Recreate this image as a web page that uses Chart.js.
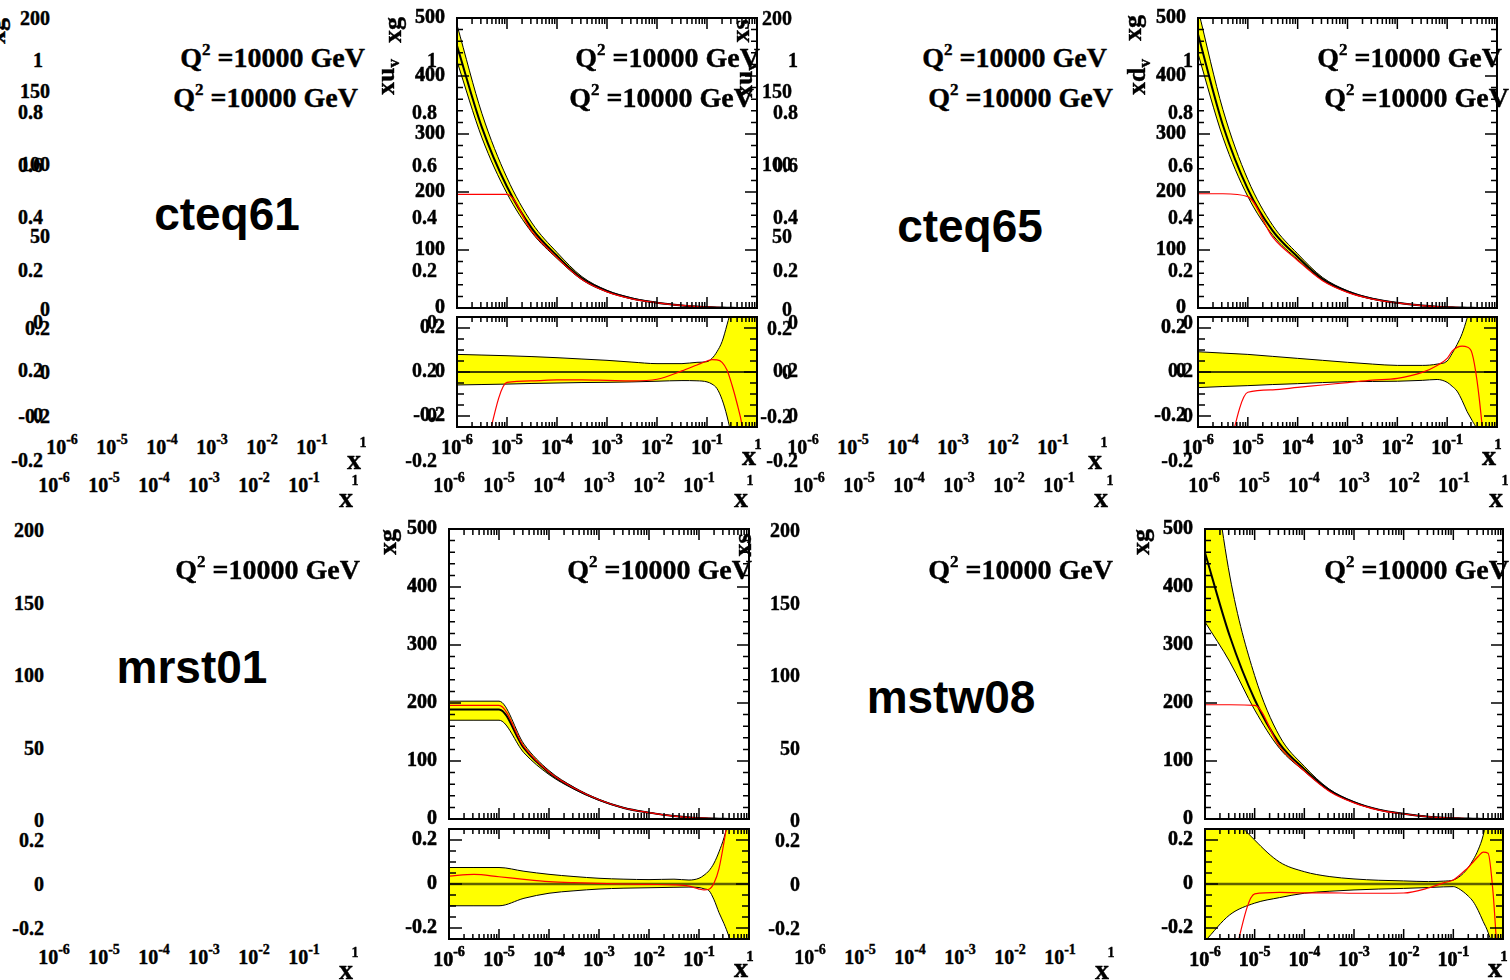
<!DOCTYPE html>
<html>
<head>
<meta charset="utf-8">
<script src="https://cdn.jsdelivr.net/npm/chart.js"></script>
<style>
  html, body { margin: 0; padding: 0; background: #fff; }
  body { width: 1510px; height: 980px; position: relative; overflow: hidden; font-family: "Liberation Serif", "Times New Roman", serif; }
  canvas { position: absolute; }
  .t { position: absolute; white-space: nowrap; line-height: 1; font-weight: bold; color: #000; -webkit-text-stroke: 0.4px #000; }
  .t sup, .t sub { line-height: 0; }
  .sans { font-family: "Liberation Sans", Arial, sans-serif; -webkit-text-stroke: 0; }
</style>
</head>
<body>
<script>
// x grid (shared by every pad)
const xGrid = [1e-6, 3.16e-6, 1e-5, 3.16e-5, 1e-4, 3.16e-4, 1e-3, 3.16e-3, 1e-2, 3.16e-2, 6.3e-2,
               0.1, 0.126, 0.158, 0.2, 0.251, 0.316, 0.398, 0.501, 0.631, 0.794, 1];

// cteq61
const cteq61Central  = [452, 311, 209, 137, 90, 51, 29, 16.5, 9.2, 4.4, 2.4, 1.6, 1.25, 0.95, 0.7, 0.5, 0.33, 0.2, 0.1, 0.05, 0.015, 0];
const cteq61BandUp   = [.080, .077, .074, .070, .065, .059, .053, .045, .038, .038, .044, .047, .062, .092, .138, .214, .30, .40, .55, .70, .90, 1.1];
const cteq61BandLo   = [-.059, -.057, -.055, -.052, -.050, -.048, -.047, -.045, -.042, -.039, -.040, -.045, -.055, -.075, -.125, -.20, -.30, -.40, -.55, -.70, -.90, -1.1];
const cteq61RedRatio = [-.80, -.42, -.047, -.040, -.036, -.036, -.038, -.040, -.033, .005, .032, .050, .056, .055, .044, .009, -.059, -.142, -.24, -.40, -.60, -.80];
const cteq61RedTop   = [196, 196, 196, 131.5, 86.8, 49.2, 27.9, 15.8, 8.9, 4.4, 2.5, 1.7, 1.3, 1.0, 0.73, 0.5, 0.31, 0.17, 0.08, 0.03, 0.006, 0];

// cteq65
const cteq65Central  = [472, 315, 205, 133, 88, 50, 28.5, 16, 9, 4.2, 2.3, 1.5, 1.15, 0.9, 0.65, 0.45, 0.3, 0.18, 0.09, 0.04, 0.01, 0];
const cteq65BandUp   = [.092, .086, .080, .071, .062, .053, .044, .036, .030, .030, .036, .050, .085, .125, .175, .245, .33, .42, .55, .70, .90, 1.1];
const cteq65BandLo   = [-.071, -.066, -.062, -.057, -.053, -.048, -.044, -.043, -.042, -.038, -.034, -.047, -.065, -.087, -.13, -.18, -.22, -.27, -.40, -.55, -.75, -1.0];
const cteq65RedRatio = [-.84, -.466, -.092, -.081, -.070, -.059, -.048, -.037, -.029, -.002, .030, .062, .095, .112, .118, .114, .085, -.04, -.24, -.50, -.70, -.90];
const cteq65RedTop   = [197, 197, 192, 122, 82, 47, 27, 15.4, 8.7, 4.2, 2.4, 1.6, 1.25, 1.0, 0.77, 0.5, 0.33, 0.17, 0.07, 0.02, 0.003, 0];

// mrst01
const mrst01Central  = [189, 189, 189, 122, 80, 53, 33, 19, 11, 5, 2.8, 1.8, 1.4, 1.05, 0.75, 0.5, 0.33, 0.2, 0.1, 0.04, 0.01, 0];
const mrst01BandUp   = [.075, .075, .075, .058, .044, .034, .026, .022, .020, .022, .018, .026, .04, .06, .095, .146, .21, .30, .40, .50, .60, .70];
const mrst01BandLo   = [-.099, -.099, -.099, -.065, -.042, -.031, -.023, -.019, -.017, -.015, -.014, -.016, -.022, -.03, -.072, -.13, -.18, -.24, -.32, -.45, -.55, -.65];
const mrst01RedRatio = [.036, .044, .033, .021, .011, .006, .003, .0, -.002, -.004, -.01, -.023, -.027, -.024, .005, .07, .19, .33, .5, .7, .9, 1.1];
const mrst01RedTop   = [196, 196, 196, 124.6, 80.9, 53.3, 33.1, 19, 11, 5, 2.8, 1.76, 1.36, 1.02, 0.75, 0.53, 0.39, 0.27, 0.15, 0.07, 0.02, 0];

// mstw08
const mstw08Central  = [459, 315, 206, 130, 86, 50, 29, 16, 9, 4, 2.3, 1.5, 1.15, 0.9, 0.65, 0.45, 0.3, 0.18, 0.09, 0.04, 0.01, 0];
const mstw08BandUp   = [.55, .33, .20, .10, .056, .034, .023, .017, .014, .011, .013, .018, .03, .048, .075, .11, .155, .22, .33, .45, .60, .80];
const mstw08BandLo   = [-.26, -.14, -.087, -.062, -.042, -.033, -.027, -.023, -.020, -.016, -.013, -.012, -.02, -.035, -.055, -.08, -.12, -.17, -.22, -.30, -.45, -.60];
const mstw08RedRatio = [-.75, -.41, -.045, -.038, -.040, -.040, -.042, -.042, -.041, -.018, .005, .018, .035, .055, .075, .10, .125, .145, .14, -.04, -.38, -.70];
const mstw08RedTop   = [197, 197, 196, 125, 82.6, 48, 27.8, 15.3, 8.6, 3.9, 2.3, 1.53, 1.19, 0.95, 0.7, 0.5, 0.33, 0.2, 0.1, 0.04, 0.006, 0];

// tick labels
const upperTicks = [0, 100, 200, 300, 400, 500];
const ratioTicks = [-0.2, 0, 0.2];
const decadeExps = [-6, -5, -4, -3, -2, -1];

// labels of the overlapping (empty) pads
const ghostSetA   = ['200', '150', '100', '50', '0'];
const ghostSetB   = ['1', '0.8', '0.6', '0.4', '0.2', '0'];
const ghostRatio  = ['0.2', '0', '-0.2'];
const qText = 'Q<sup style="font-size:17px;vertical-align:12px">2</sup> =10000 GeV';

const serif = '"Liberation Serif"';

function boldText(ctx, s, x, y) {
  ctx.fillText(s, x, y);
  ctx.strokeText(s, x, y);
}

// ROOT style frame, inward ticks and labels
const rootFrame = {
  id: 'rootFrame',
  afterDraw(chart, args, o) {
    const { ctx, chartArea: a } = chart;
    const x = chart.scales.x, y = chart.scales.y;
    ctx.save();
    ctx.strokeStyle = '#000';
    ctx.lineWidth = 1.5;
    ctx.beginPath();
    for (let e = -6; e < 0; e++) {
      for (let m = 1; m <= 9; m++) {
        if (e === -6 && m === 1) continue;
        const px = x.getPixelForValue(m * Math.pow(10, e));
        const len = m === 1 ? o.xMajor : o.xMinor;
        ctx.moveTo(px, a.bottom); ctx.lineTo(px, a.bottom - len);
        ctx.moveTo(px, a.top); ctx.lineTo(px, a.top + len);
      }
    }
    const n = Math.round((o.yMax - o.yMin) / o.yStep);
    for (let i = 0; i <= n; i++) {
      const v = o.yMin + i * o.yStep;
      const py = y.getPixelForValue(v);
      const major = o.yLabels.some(t => Math.abs(t - v) < 1e-6);
      const len = major ? o.yMajor : o.yMinor;
      ctx.moveTo(a.left, py); ctx.lineTo(a.left + len, py);
      ctx.moveTo(a.right, py); ctx.lineTo(a.right - len, py);
    }
    ctx.stroke();

    ctx.lineWidth = 2;
    ctx.strokeRect(a.left, a.top, a.right - a.left, a.bottom - a.top);

    ctx.fillStyle = '#000';
    ctx.lineWidth = 0.6;
    ctx.font = 'bold 20px ' + serif;
    ctx.textAlign = 'right';
    ctx.textBaseline = 'middle';
    o.yLabels.forEach(v => boldText(ctx, String(v), a.left - 12, y.getPixelForValue(v)));

    if (o.xLabels) {
      ctx.textBaseline = 'alphabetic';
      ctx.textAlign = 'left';
      decadeExps.forEach(e => {
        const px = x.getPixelForValue(Math.pow(10, e));
        ctx.font = 'bold 20px ' + serif;
        const w1 = ctx.measureText('10').width;
        ctx.font = 'bold 14px ' + serif;
        const w2 = ctx.measureText(String(e)).width;
        const x0 = px - (w1 + w2) / 2;
        ctx.font = 'bold 20px ' + serif;
        boldText(ctx, '10', x0, a.bottom + 27);
        ctx.font = 'bold 14px ' + serif;
        boldText(ctx, String(e), x0 + w1, a.bottom + 17);
      });
      ctx.font = 'bold 14px ' + serif;
      ctx.textAlign = 'center';
      boldText(ctx, '1', x.getPixelForValue(1) + 1, a.bottom + 22);
      ctx.font = 'bold 28px ' + serif;
      ctx.textAlign = 'right';
      boldText(ctx, 'x', a.right - 1, a.bottom + 38);
    }
    ctx.restore();
  }
};

const pts = ys => xGrid.map((x, i) => ({ x, y: ys[i] }));

function makePad(l, r, t, b, lower, datasets, yMin, yMax, tickOpts) {
  const c = document.createElement('canvas');
  const padL = 70, padT = 14, padR = 14, padB = lower ? 50 : 14;
  const w = r - l + padL + padR, h = b - t + padT + padB;
  c.width = w; c.height = h;
  c.style.left = (l - padL) + 'px';
  c.style.top = (t - padT) + 'px';
  c.style.width = w + 'px';
  c.style.height = h + 'px';
  document.body.appendChild(c);
  return new Chart(c, {
    type: 'line',
    data: { datasets },
    options: {
      responsive: false,
      animation: false,
      devicePixelRatio: 1,
      events: [],
      layout: { padding: { left: padL, top: padT, right: padR, bottom: padB } },
      scales: {
        x: { type: 'logarithmic', min: 1e-6, max: 1, display: false },
        y: { type: 'linear', min: yMin, max: yMax, display: false }
      },
      elements: { point: { radius: 0 }, line: { cubicInterpolationMode: 'monotone' } },
      plugins: { legend: { display: false }, tooltip: { enabled: false }, rootFrame: tickOpts }
    },
    plugins: [rootFrame]
  });
}

const panels = [
  { l: 457,  r: 757,  up: [18, 308],  lo: [317, 427], c: cteq61Central, bu: cteq61BandUp, bl: cteq61BandLo, rr: cteq61RedRatio, rt: cteq61RedTop, zc: '#000', zw: 1.5 },
  { l: 1198, r: 1497, up: [18, 308],  lo: [317, 427], c: cteq65Central, bu: cteq65BandUp, bl: cteq65BandLo, rr: cteq65RedRatio, rt: cteq65RedTop, zc: '#000', zw: 1.5 },
  { l: 449,  r: 749,  up: [529, 819], lo: [829, 939], c: mrst01Central, bu: mrst01BandUp, bl: mrst01BandLo, rr: mrst01RedRatio, rt: mrst01RedTop, zc: 'rgba(0,0,0,0.62)', zw: 2.5 },
  { l: 1205, r: 1503, up: [529, 819], lo: [829, 939], c: mstw08Central, bu: mstw08BandUp, bl: mstw08BandLo, rr: mstw08RedRatio, rt: mstw08RedTop, zc: 'rgba(0,0,0,0.62)', zw: 2.5 }
];

const upperOpts = { xMajor: 11, xMinor: 6, yMin: 0, yMax: 500, yStep: 20, yLabels: upperTicks, yMajor: 12, yMinor: 6, xLabels: false };
const ratioOpts = { xMajor: 10, xMinor: 5, yMin: -0.25, yMax: 0.25, yStep: 0.05, yLabels: ratioTicks, yMajor: 13, yMinor: 7, xLabels: true };

panels.forEach(p => {
  const bandHi = p.c.map((v, i) => v * (1 + p.bu[i]));
  const bandLo = p.c.map((v, i) => v * (1 + p.bl[i]));
  makePad(p.l, p.r, p.up[0], p.up[1], false, [
    { data: pts(bandHi), borderColor: '#000', borderWidth: 1, backgroundColor: '#ffff00', fill: '+1', order: 4, clip: 0 },
    { data: pts(bandLo), borderColor: '#000', borderWidth: 1, fill: false, order: 3, clip: 0 },
    { data: pts(p.c), borderColor: '#000', borderWidth: 2, fill: false, order: 2, clip: 0 },
    { data: pts(p.rt), borderColor: '#ff0000', borderWidth: 1.2, fill: false, order: 1, clip: 0 }
  ], 0, 500, upperOpts);

  makePad(p.l, p.r, p.lo[0], p.lo[1], true, [
    { data: pts(p.bu), borderColor: '#000', borderWidth: 1, backgroundColor: '#ffff00', fill: '+1', order: 4, clip: 0 },
    { data: pts(p.bl), borderColor: '#000', borderWidth: 1, fill: false, order: 3, clip: 0 },
    { data: pts(p.c.map(() => 0)), borderColor: p.zc, borderWidth: p.zw, fill: false, order: 2, clip: 0 },
    { data: pts(p.rr), borderColor: '#ff0000', borderWidth: 1.2, fill: false, order: 1, clip: 0 }
  ], -0.25, 0.25, ratioOpts);
});

// ---- text of the overlapping pads ----
function txt(x, y, html, size, align, extra, cls) {
  const d = document.createElement('div');
  d.className = 't' + (cls ? ' ' + cls : '');
  d.style.left = x + 'px';
  d.style.top = y + 'px';
  d.style.fontSize = size + 'px';
  const tx = align === 'right' ? '-100%' : align === 'center' ? '-50%' : '0';
  d.style.transform = 'translate(' + tx + ', -50%)' + (extra || '');
  d.innerHTML = html;
  document.body.appendChild(d);
  return d;
}

function ghostY(right, labels, y0, y1) {
  labels.forEach((s, i) => txt(right, y0 + (y1 - y0) * i / (labels.length - 1), s, 20, 'right'));
}

function ghostX(left, right, midY) {
  const step = (right - left) / 6;
  decadeExps.forEach((e, i) => txt(left + step * i, midY, '10<sup style="font-size:14px;vertical-align:10px">' + e + '</sup>', 20, 'center'));
  txt(right + 1, midY - 4, '1', 14, 'center');
  txt(right - 1, midY + 13, 'x', 28, 'right');
}

function rotLabel(cx, cy, html) {
  txt(cx, cy, html, 26, 'center', ' rotate(-90deg)');
}
const xuv = 'xu<sub style="font-size:17px;vertical-align:-5px">v</sub>';
const xdv = 'xd<sub style="font-size:17px;vertical-align:-5px">v</sub>';

// top row, left empty area
ghostY(50, ghostSetA, 18, 309);
ghostY(50, ghostRatio, 328, 416);
ghostY(43, ghostSetB, 60, 322);
ghostY(43, ghostRatio, 370, 460);
ghostX(62, 362, 447);
ghostX(54, 354, 485);
txt(365, 58, qText, 28, 'right');
txt(358, 98, qText, 28, 'right');
txt(227, 214, 'cteq61', 46, 'center', '', 'sans');
rotLabel(-3, 31, 'xg');

// top row, cteq61 pad
ghostY(437, ghostSetB, 60, 322);
ghostY(437, ghostRatio, 370, 460);
ghostX(449, 749, 485);
txt(760, 58, qText, 28, 'right');
txt(754, 98, qText, 28, 'right');
rotLabel(393, 30, 'xg');
rotLabel(386, 77, xuv);
rotLabel(741, 31, 'xs');
rotLabel(744, 80, xuv);

// top row, middle empty area
ghostY(792, ghostSetA, 18, 309);
ghostY(792, ghostRatio, 328, 416);
ghostY(798, ghostSetB, 60, 322);
ghostY(798, ghostRatio, 370, 460);
ghostX(803, 1103, 447);
ghostX(809, 1109, 485);
txt(1107, 58, qText, 28, 'right');
txt(1113, 98, qText, 28, 'right');
txt(970, 226, 'cteq65', 46, 'center', '', 'sans');
rotLabel(1133, 28, 'xg');
rotLabel(1137, 77, xdv);

// top row, cteq65 pad
ghostY(1193, ghostSetB, 60, 322);
ghostY(1193, ghostRatio, 370, 460);
ghostX(1204, 1504, 485);
txt(1502, 58, qText, 28, 'right');
txt(1509, 98, qText, 28, 'right');

// bottom row
ghostY(44, ghostSetA, 530, 820);
ghostY(44, ghostRatio, 840, 928);
ghostX(54, 354, 957);
txt(360, 570, qText, 28, 'right');
txt(192, 667, 'mrst01', 46, 'center', '', 'sans');

txt(752, 570, qText, 28, 'right');
rotLabel(388, 542, 'xg');
rotLabel(743, 545, 'xs');

ghostY(800, ghostSetA, 530, 820);
ghostY(800, ghostRatio, 840, 928);
ghostX(810, 1110, 957);
txt(1113, 570, qText, 28, 'right');
txt(951, 697, 'mstw08', 46, 'center', '', 'sans');

txt(1509, 570, qText, 28, 'right');
rotLabel(1141, 542, 'xg');
</script>
</body>
</html>
